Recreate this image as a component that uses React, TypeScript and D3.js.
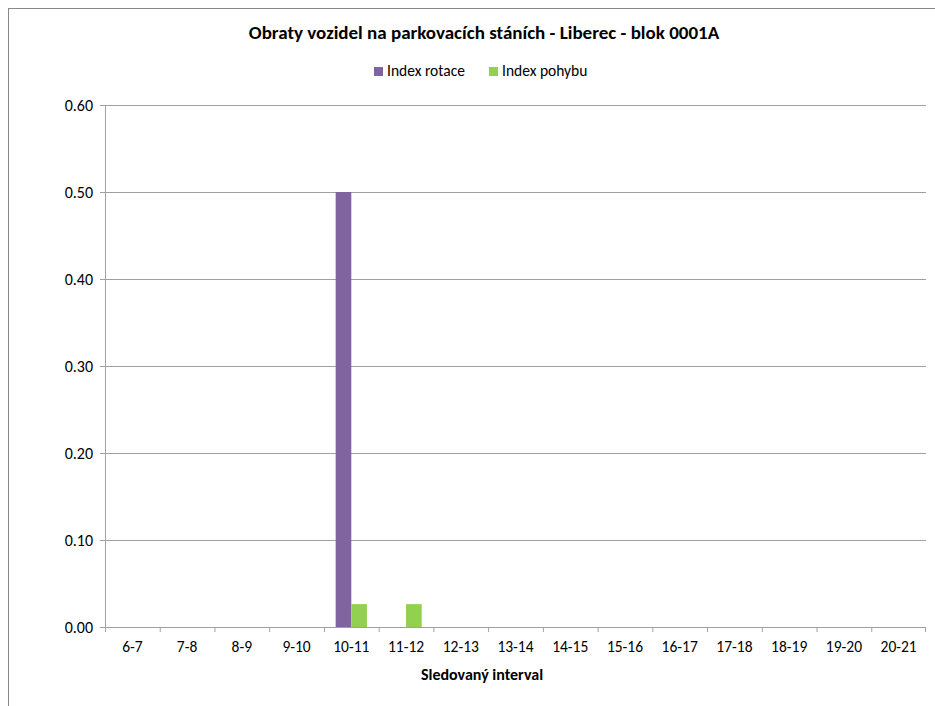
import React from "react";
import * as d3 from "d3";

const categories = ["6-7","7-8","8-9","9-10","10-11","11-12","12-13","13-14","14-15","15-16","16-17","17-18","18-19","19-20","20-21"];
const indexRotace = [0,0,0,0,0.5,0,0,0,0,0,0,0,0,0,0];
const indexPohybu = [0,0,0,0,0.0263,0.0263,0,0,0,0,0,0,0,0,0];
const yTicks = [0,0.1,0.2,0.3,0.4,0.5,0.6];
const seriesNames = ["Index rotace","Index pohybu"];
const colors = ["#8064A2","#92D050"];

const W = 935, H = 706;
const left = 105, right = 926, top = 105, bottom = 627;
const font = "Carlito, Calibri, Lato, 'Open Sans', sans-serif";

export default function App() {
  const x = d3.scaleBand<string>().domain(categories).range([left, right]).paddingInner(0).paddingOuter(0);
  const y = d3.scaleLinear().domain([0, 0.6]).range([bottom, top]);
  const bw = x.bandwidth();
  const barW = bw / 3.5;
  const series = [indexRotace, indexPohybu];
  return (
    <svg width={W} height={H} style={{ position: "absolute", left: 0, top: 0 }} fontFamily={font}>
      <rect x={8.5} y={8.5} width={W + 20} height={H + 20} fill="#fff" stroke="#888" strokeWidth={1} />
      <text x={484} y={39} textAnchor="middle" fontWeight="bold" fontSize={19}>Obraty vozidel na parkovacích stáních - Liberec - blok 0001A</text>
      {seriesNames.map((n, i) => (
        <g key={n} transform={`translate(${i === 0 ? 374 : 489},0)`}>
          <rect x={0} y={67} width={9} height={9} fill={colors[i]} />
          <text x={13} y={76} fontSize={15.5}>{n}</text>
        </g>
      ))}
      {yTicks.map((t) => (
        <g key={t}>
          <line x1={left} x2={right} y1={Math.round(y(t)) + 0.5} y2={Math.round(y(t)) + 0.5} stroke="#A0A0A0" strokeWidth={1} />
          <line x1={left - 5} x2={left} y1={Math.round(y(t)) + 0.5} y2={Math.round(y(t)) + 0.5} stroke="#A0A0A0" />
          <text x={93} y={y(t) + 6} textAnchor="end" fontSize={16}>{t.toFixed(2)}</text>
        </g>
      ))}
      <line x1={left + 0.5} x2={left + 0.5} y1={top} y2={bottom} stroke="#A0A0A0" />
      {categories.map((c, i) => (
        <g key={c}>
          <line x1={x(c)! + 0.5} x2={x(c)! + 0.5} y1={bottom} y2={bottom + 5} stroke="#A0A0A0" />
          <text x={x(c)! + bw / 2} y={652} textAnchor="middle" fontSize={15.5}>{c}</text>
        </g>
      ))}
      <line x1={right - 0.5} x2={right - 0.5} y1={bottom} y2={bottom + 5} stroke="#A0A0A0" />
      {series.map((s, si) =>
        s.map((v, i) =>
          v > 0 ? (
            <rect key={si + "-" + i} x={x(categories[i])! + bw * 0.75 / 3.5 + si * barW} y={y(v)} width={barW} height={bottom - y(v)} fill={colors[si]} />
          ) : null
        )
      )}
      <text x={482} y={680} textAnchor="middle" fontWeight="bold" fontSize={16}>Sledovaný interval</text>
    </svg>
  );
}
